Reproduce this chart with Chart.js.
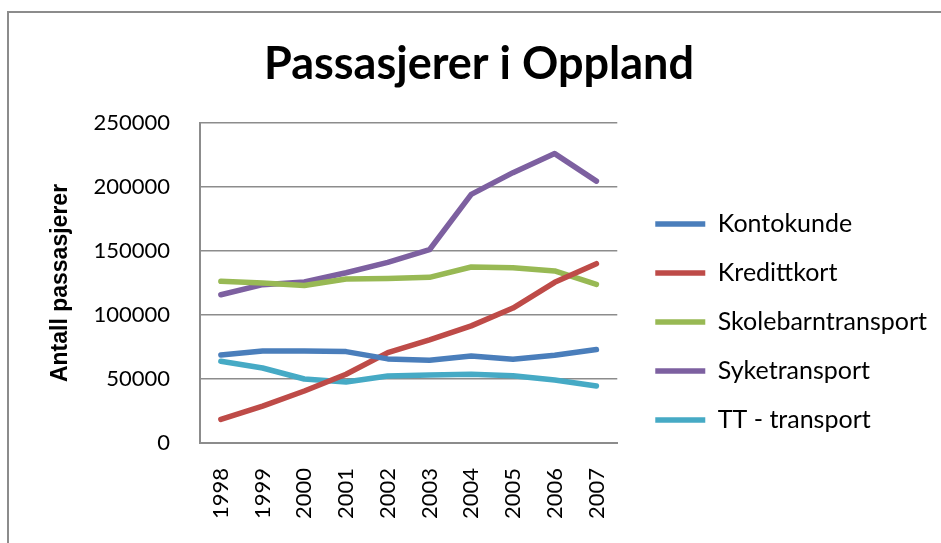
<!DOCTYPE html>
<html>
<head>
<meta charset="utf-8">
<script src="https://cdn.jsdelivr.net/npm/chart.js@4"></script>
<style>
html, body { margin: 0; padding: 0; background: #fff; overflow: hidden; }
#frame { position: absolute; left: 7px; top: 11px; width: 1000px; height: 1000px;
  border-left: 2px solid #8c8c8c; border-top: 2px solid #8c8c8c; }
#wrap { position: absolute; left: 9px; top: 13px; width: 932px; height: 530px; }
</style>
</head>
<body>
<div id="frame"></div>
<div id="wrap"><canvas id="chart"></canvas></div>
<script>
// values
const years = ['1998','1999','2000','2001','2002','2003','2004','2005','2006','2007']
const kontokunde = [68800, 71900, 71900, 71400, 65700, 64600, 68000, 65400, 68600, 73000]
const kredittkort = [18400, 28800, 40600, 53700, 70600, 80600, 91500, 105400, 125500, 140100]
const skolebarntransport = [126300, 125000, 123100, 128100, 128600, 129400, 137500, 137000, 134400, 123900]
const syketransport = [115800, 123700, 125800, 133000, 141100, 151000, 194200, 211200, 226100, 204600]
const ttTransport = [63900, 58600, 50000, 47700, 52400, 53100, 53700, 52600, 49200, 44500]

const gridColor = '#8c8c8c'

function line(label, data, color){
  return {
    label: label,
    data: data,
    borderColor: color,
    backgroundColor: color,
    borderWidth: 5.5,
    borderCapStyle: 'round',
    borderJoinStyle: 'round',
    pointRadius: 0,
    tension: 0,
    fill: false
  }
}

const ctx = document.getElementById('chart')

new Chart(ctx, {
  type: 'line',
  data: {
    labels: years,
    datasets: [
      line('Kontokunde', kontokunde, '#4a7ebb'),
      line('Kredittkort', kredittkort, '#be4b48'),
      line('Skolebarntransport', skolebarntransport, '#98b954'),
      line('Syketransport', syketransport, '#7d60a0'),
      line('TT - transport', ttTransport, '#46aac5')
    ]
  },
  options: {
    responsive: true,
    maintainAspectRatio: false,
    animation: false,
    layout: { padding: { left: 12, right: 4, top: 0, bottom: 0 } },
    plugins: {
      title: {
        display: true,
        text: 'Passasjerer i Oppland',
        color: '#000',
        font: { family: 'Lato', size: 45, weight: 'bold', lineHeight: 1.2 },
        padding: { top: 24, bottom: 32 }
      },
      legend: {
        position: 'right',
        maxWidth: 400,
        // empty title only pushes the items down to where they sit in the original
        title: { display: true, text: ' ', font: { size: 10, lineHeight: 1.2 }, padding: { top: 38, bottom: 38 } },
        labels: {
          color: '#000',
          font: { family: 'Lato', size: 25, lineHeight: 1.2 },
          usePointStyle: true,
          pointStyle: 'line',
          pointStyleWidth: 50,
          padding: 24
        }
      },
      tooltip: { enabled: false }
    },
    scales: {
      x: {
        offset: true,
        grid: { display: false, drawTicks: false },
        border: { display: true, color: gridColor, width: 2 },
        ticks: {
          color: '#000',
          font: { family: 'Lato', size: 22 },
          autoSkip: false,
          minRotation: 90,
          maxRotation: 90,
          padding: 25
        },
        afterFit: function(scale){ scale.height = 100 }
      },
      y: {
        min: 0,
        max: 250000,
        grid: { color: gridColor, lineWidth: 1.5, drawTicks: false },
        border: { display: true, color: gridColor, width: 2 },
        ticks: {
          stepSize: 50000,
          color: '#000',
          font: { family: 'Lato', size: 22 },
          padding: 30,
          callback: function(v){ return String(v) }
        },
        title: {
          display: true,
          text: 'Antall passasjerer',
          color: '#000',
          font: { family: 'Liberation Sans', size: 23, weight: 'bold' },
          padding: 26
        },
        afterFit: function(scale){ scale.width = 179 }
      },
      // empty spacer between plot and legend
      gap: {
        type: 'linear',
        position: 'right',
        display: true,
        grid: { display: false, drawTicks: false },
        border: { display: false },
        ticks: { display: false },
        afterFit: function(scale){ scale.width = 14 }
      }
    }
  }
})
</script>
</body>
</html>
